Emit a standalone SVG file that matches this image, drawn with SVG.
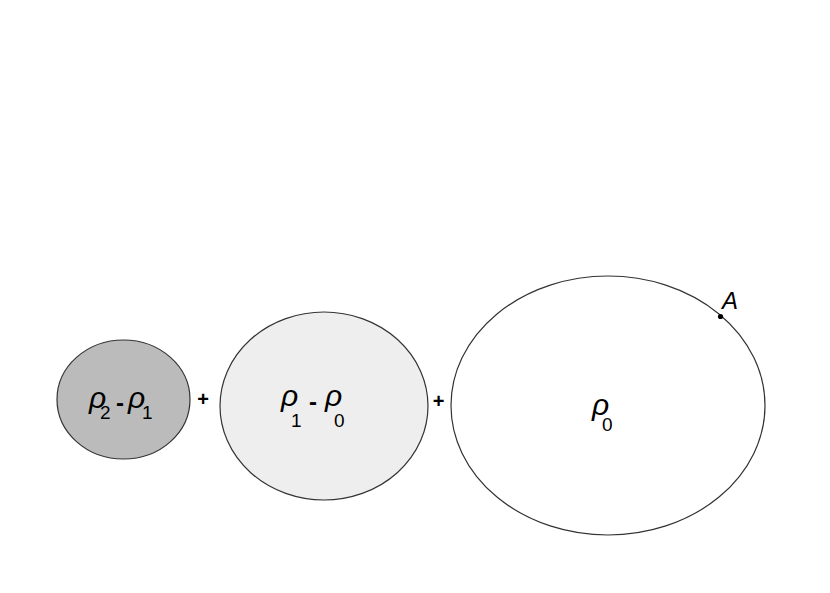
<svg xmlns="http://www.w3.org/2000/svg" width="830" height="593" viewBox="0 0 830 593">
<style>
.e{stroke:#333;stroke-width:1.2}
.t{font-family:"Liberation Sans",Arial,sans-serif;fill:#000}
.r{font-style:italic;font-size:30px}
.s{font-size:19px;font-style:normal}
.m{font-size:24px;font-weight:bold;font-style:normal}
.p{font-family:"Liberation Sans",Arial,sans-serif;font-size:20px;font-weight:bold;fill:#000;text-anchor:middle}
</style>
<rect width="830" height="593" fill="#fff"/>
<g id="n1">
<ellipse class="e" cx="123.5" cy="399.5" rx="66.5" ry="59.5" fill="#bbbbbb"/>
<text class="t"><tspan class="r" x="89" y="408">ρ</tspan><tspan class="s" x="100" y="419">2</tspan><tspan class="m" x="116" y="411">-</tspan><tspan class="r" x="128" y="408">ρ</tspan><tspan class="s" x="142" y="419">1</tspan></text>
</g>
<g id="n2">
<ellipse class="e" cx="324" cy="406" rx="104" ry="94" fill="#eeeeee"/>
<text class="t"><tspan class="r" x="281" y="406">ρ</tspan><tspan class="s" x="291" y="427">1</tspan><tspan class="m" x="309" y="410">-</tspan><tspan class="r" x="325" y="406">ρ</tspan><tspan class="s" x="334" y="427">0</tspan></text>
</g>
<g id="n3">
<ellipse class="e" cx="608" cy="405.5" rx="157" ry="129.5" fill="#ffffff"/>
<text class="t"><tspan class="r" x="592" y="415">ρ</tspan><tspan class="s" x="602" y="431">0</tspan></text>
<circle cx="720.5" cy="316.5" r="2.6" fill="#000"/>
<text class="t" x="722" y="309" style="font-style:italic;font-size:24px">A</text>
</g>
<g id="ops">
<text class="p" x="203" y="405.5">+</text>
<text class="p" x="438.5" y="407.5">+</text>
</g>
</svg>
